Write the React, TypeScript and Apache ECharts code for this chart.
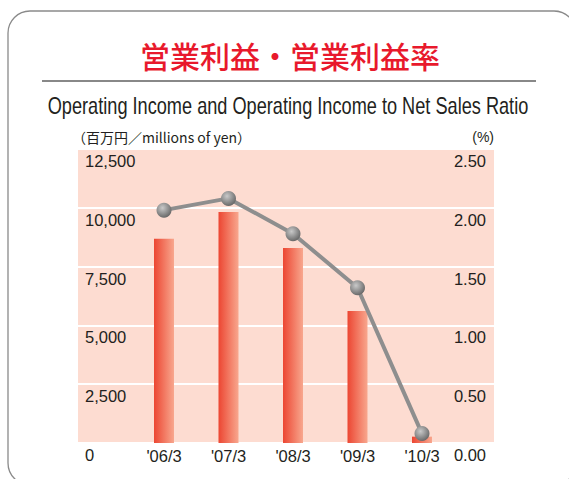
import React, { useEffect, useRef } from "react";
import * as echarts from "echarts";

const categories = ["'06/3", "'07/3", "'08/3", "'09/3", "'10/3"];
const operatingIncome = [8680, 9820, 8290, 5610, 270];
const operatingRatio = [1.98, 2.08, 1.78, 1.32, 0.08];
const leftTicks = { min: 0, max: 12500, interval: 2500 };
const rightTicks = { min: 0, max: 2.5, interval: 0.5 };

const titleJa = "営業利益・営業利益率";
const titleEn = "Operating Income and Operating Income to Net Sales Ratio";
const unitLeft = "（百万円／millions of yen）";
const unitRight = "(%)";

export default function App() {
  const ref = useRef<HTMLDivElement>(null);
  useEffect(() => {
    if (!ref.current) return;
    const chart = echarts.init(ref.current, undefined, { renderer: "svg" });
    const labelStyle = {
      color: "#231f20",
      fontSize: 16.5,
      fontFamily: "Liberation Sans, Arial, sans-serif",
    };
    const top = 149;
    const bottom = 36;
    chart.setOption({
      animation: false,
      backgroundColor: "#ffffff",
      graphic: [
        {
          type: "rect",
          shape: { x: 8, y: 11, width: 568, height: 474, r: 22 },
          style: { fill: "none", stroke: "#8a8a8a", lineWidth: 1.3 },
          silent: true,
        },
        {
          type: "text",
          x: 290,
          y: 55,
          style: {
            text: titleJa,
            fill: "#e8192c",
            fontSize: 30,
            fontWeight: 500,
            fontFamily: "Noto Sans CJK JP, sans-serif",
            align: "center",
            verticalAlign: "middle",
          },
        },
        {
          type: "line",
          shape: { x1: 42, y1: 81, x2: 536, y2: 81 },
          style: { stroke: "#888888", lineWidth: 2 },
        },
        {
          type: "text",
          x: 288,
          y: 106,
          scaleX: 0.79,
          style: {
            text: titleEn,
            fill: "#231f20",
            fontSize: 23,
            fontFamily: "Liberation Sans, Arial, sans-serif",
            align: "center",
            verticalAlign: "middle",
          },
        },
        {
          type: "text",
          x: 72,
          y: 137,
          style: {
            text: unitLeft,
            fill: "#231f20",
            fontSize: 14,
            fontFamily: "Noto Sans CJK JP, sans-serif",
            align: "left",
            verticalAlign: "middle",
          },
        },
        {
          type: "text",
          x: 494,
          y: 137,
          style: {
            text: unitRight,
            fill: "#231f20",
            fontSize: 14,
            fontFamily: "Liberation Sans, sans-serif",
            align: "right",
            verticalAlign: "middle",
          },
        },
      ],
      grid: [
        {
          left: 78,
          right: 75,
          top,
          bottom,
          show: true,
          backgroundColor: "#fddcd1",
          borderWidth: 0,
        },
        {
          left: 131.75,
          right: 114.75,
          top,
          bottom,
        },
      ],
      xAxis: [
        {
          gridIndex: 0,
          type: "category",
          data: categories,
          show: false,
        },
        {
          gridIndex: 1,
          type: "category",
          data: categories,
          axisLine: { show: false },
          axisTick: { show: false },
          axisLabel: { ...labelStyle, margin: 4 },
        },
      ],
      yAxis: [
        {
          gridIndex: 0,
          type: "value",
          position: "left",
          ...leftTicks,
          axisLine: { show: false },
          axisTick: { show: false },
          splitLine: { lineStyle: { color: "#ffffff", width: 2 } },
          axisLabel: {
            ...labelStyle,
            inside: true,
            margin: 7,
            verticalAlign: "top",
            lineHeight: 24,
            showMinLabel: true,
            showMaxLabel: true,
            formatter: (v: number) => v.toLocaleString("en-US"),
          },
        },
        {
          gridIndex: 0,
          type: "value",
          position: "right",
          ...rightTicks,
          axisLine: { show: false },
          axisTick: { show: false },
          splitLine: { show: false },
          axisLabel: {
            ...labelStyle,
            inside: true,
            margin: 8,
            verticalAlign: "top",
            lineHeight: 24,
            showMinLabel: true,
            showMaxLabel: true,
            formatter: (v: number) => v.toFixed(2),
          },
        },
        {
          gridIndex: 1,
          type: "value",
          ...leftTicks,
          show: false,
          splitLine: { show: false },
        },
        {
          gridIndex: 1,
          type: "value",
          ...rightTicks,
          show: false,
          splitLine: { show: false },
        },
      ],
      series: [
        {
          type: "bar",
          xAxisIndex: 1,
          yAxisIndex: 2,
          data: operatingIncome,
          barWidth: 20,
          itemStyle: {
            color: new echarts.graphic.LinearGradient(0, 0, 1, 0, [
              { offset: 0, color: "#ec4632" },
              { offset: 1, color: "#f8a78e" },
            ]),
          },
          z: 2,
        },
        {
          type: "line",
          xAxisIndex: 1,
          yAxisIndex: 3,
          data: operatingRatio,
          symbol: "circle",
          symbolSize: 15,
          lineStyle: { color: "#8e8e8e", width: 4 },
          itemStyle: {
            color: new echarts.graphic.RadialGradient(0.4, 0.35, 0.65, [
              { offset: 0, color: "#c9c9c9" },
              { offset: 1, color: "#6a6a6a" },
            ]),
            borderWidth: 0,
          },
          z: 3,
        },
      ],
    });
    return () => chart.dispose();
  }, []);
  return (
    <div
      ref={ref}
      style={{ position: "fixed", left: 0, top: 0, width: 569, height: 479 }}
    />
  );
}
